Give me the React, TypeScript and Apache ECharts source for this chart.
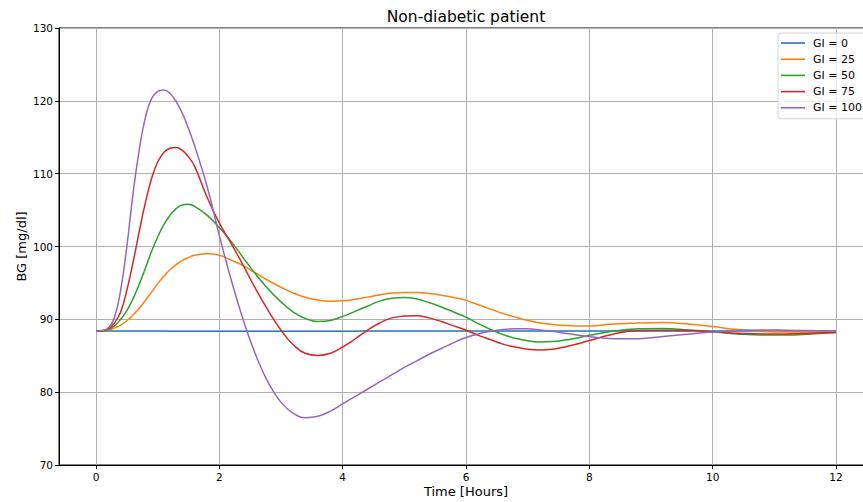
import React, { useEffect, useRef } from "react";
import * as echarts from "echarts";

const TITLE = "Non-diabetic patient";
const X_LABEL = "Time [Hours]";
const Y_LABEL = "BG [mg/dl]";
const X_TICKS = [0, 2, 4, 6, 8, 10, 12];
const SERIES_NAMES = ["GI = 0", "GI = 25", "GI = 50", "GI = 75", "GI = 100"];
const COLORS = ["#1f77b4", "#ff7f0e", "#2ca02c", "#d62728", "#9467bd"];

const HOURS = [
  0, 0.1, 0.2, 0.3, 0.4, 0.5, 0.6, 0.7, 0.8, 0.9, 1.0, 1.1, 1.2, 1.3, 1.4, 1.5, 1.6,
  1.8, 2.0, 2.2, 2.4, 2.6, 2.8, 3.0, 3.2, 3.4, 3.6, 3.8, 4.0, 4.2, 4.4, 4.6, 4.8, 5.0, 5.2, 5.4, 5.6,
  5.8, 6.0, 6.2, 6.4, 6.6, 6.8, 7.0, 7.2, 7.4, 7.6, 7.8, 8.0,
  8.4, 8.8, 9.2, 9.6, 10.0, 10.4, 10.8, 11.2, 11.6, 12.0,
];

const GI0 = [
  88.4, 88.4, 88.4, 88.4, 88.4, 88.4, 88.4, 88.4, 88.4, 88.4, 88.4, 88.39, 88.38, 88.38, 88.37, 88.37, 88.36,
  88.36, 88.35, 88.35, 88.35, 88.35, 88.36, 88.36, 88.37, 88.37, 88.38, 88.38, 88.38, 88.38, 88.39, 88.39, 88.39, 88.39, 88.4, 88.4, 88.4,
  88.4, 88.4, 88.4, 88.4, 88.4, 88.4, 88.4, 88.4, 88.4, 88.4, 88.4, 88.4,
  88.4, 88.4, 88.4, 88.4, 88.4, 88.4, 88.4, 88.4, 88.4, 88.4,
];
const GI25 = [
  88.4, 88.4, 88.5, 88.8, 89.2, 89.8, 90.6, 91.5, 92.6, 93.7, 94.9, 95.9, 96.8, 97.5, 98.1, 98.5, 98.8,
  99.0, 98.8, 98.1, 97.3, 96.3, 95.3, 94.4, 93.6, 93.0, 92.65, 92.5, 92.55, 92.75, 93.05, 93.35, 93.6, 93.7, 93.7, 93.55, 93.3,
  93.0, 92.6, 92.0, 91.4, 90.8, 90.3, 89.85, 89.5, 89.3, 89.15, 89.1, 89.1,
  89.35, 89.5, 89.55, 89.35, 89.0, 88.6, 88.35, 88.25, 88.25, 88.3,
];
const GI50 = [
  88.4, 88.4, 88.6, 89.1, 90.0, 91.2, 92.8, 94.8, 97.0, 99.3, 101.3, 103.0, 104.3, 105.2, 105.7, 105.8, 105.5,
  104.3, 102.6, 100.6, 98.3, 96.1, 94.1, 92.4, 91.0, 90.1, 89.7, 89.85, 90.4, 91.1, 91.8, 92.5, 92.9, 93.0, 92.8, 92.3, 91.7,
  91.0, 90.3, 89.4, 88.6, 87.9, 87.4, 87.05, 86.9, 86.95, 87.15, 87.45, 87.8,
  88.4, 88.7, 88.75, 88.55, 88.3, 88.0, 87.85, 87.85, 88.0, 88.2,
];
const GI75 = [
  88.4, 88.45, 88.7, 89.5, 91.0, 94.0, 97.8, 102.0, 106.0, 109.3, 111.6, 112.9, 113.5, 113.6, 113.2, 112.3, 111.0,
  106.8, 103.2, 100.3, 97.2, 94.0, 91.1, 88.5, 86.5, 85.3, 85.05, 85.35, 86.2, 87.3, 88.5, 89.5, 90.2, 90.45, 90.5, 90.2, 89.7,
  89.1, 88.5, 87.8, 87.2, 86.6, 86.2, 85.9, 85.8, 85.9, 86.2, 86.6, 87.1,
  88.0, 88.45, 88.5, 88.45, 88.3, 88.1, 88.0, 88.0, 88.1, 88.2,
];
const GI100 = [
  88.4, 88.45, 88.8, 90.3, 94.0, 100.0, 107.2, 113.2, 117.7, 120.3, 121.3, 121.5, 121.0, 119.9, 118.3, 116.2, 113.8,
  108.3, 101.5, 95.2, 89.6, 84.9, 81.2, 78.6, 77.1, 76.5, 76.7, 77.4, 78.4, 79.4, 80.4, 81.4, 82.4, 83.4, 84.3, 85.2, 86.0,
  86.8, 87.5, 88.0, 88.35, 88.6, 88.7, 88.7, 88.55, 88.35, 88.1, 87.85, 87.6,
  87.35, 87.35, 87.65, 87.95, 88.25, 88.45, 88.55, 88.5, 88.45, 88.4,
];

const ALL = [GI0, GI25, GI50, GI75, GI100];

const FONT = "DejaVu Sans";

export default function App() {
  const ref = useRef<HTMLDivElement>(null);
  useEffect(() => {
    if (!ref.current) return;
    const chart = echarts.init(ref.current, undefined, { renderer: "svg" });
    const gridLeft = 59;
    const gridRight = -10;
    const plotCenter = gridLeft + (863 - gridLeft - gridRight) / 2;
    chart.setOption({
      animation: false,
      backgroundColor: "#ffffff",
      textStyle: { fontFamily: FONT },
      title: {
        text: TITLE,
        left: plotCenter,
        textAlign: "center",
        top: 9,
        padding: 0,
        textStyle: { fontFamily: FONT, fontSize: 15.5, fontWeight: "normal", color: "#000" },
      },
      legend: {
        orient: "vertical",
        left: 778,
        top: 33,
        padding: [2, 4, 3, 3],
        itemGap: 0.2,
        itemWidth: 24,
        itemHeight: 1.6,
        icon: "rect",
        backgroundColor: "rgba(255,255,255,0.8)",
        borderColor: "#d4d4d4",
        borderWidth: 1,
        borderRadius: 3,
        textStyle: { fontFamily: FONT, fontSize: 11, color: "#000", lineHeight: 16, padding: [0, 0, 0, 3] },
        data: SERIES_NAMES,
      },
      grid: {
        left: gridLeft,
        right: gridRight,
        top: 28,
        bottom: 37,
        show: true,
        borderColor: "#000",
        borderWidth: 1,
        containLabel: false,
        outerBoundsMode: "none",
      },
      xAxis: {
        type: "value",
        min: -0.6,
        max: 12.6,
        name: X_LABEL,
        nameLocation: "middle",
        nameGap: 20,
        nameMoveOverlap: false,
        nameTextStyle: { fontFamily: FONT, fontSize: 13, color: "#000" },
        axisLine: { show: true, onZero: false, lineStyle: { color: "#000", width: 1 } },
        axisTick: { show: true, inside: false, length: 4, customValues: X_TICKS, lineStyle: { color: "#000" } },
        axisLabel: { customValues: X_TICKS, margin: 6, fontFamily: FONT, fontSize: 10.5, color: "#000" },
        splitLine: { show: true, lineStyle: { color: "#b0b0b0", width: 1 } },
      },
      yAxis: {
        type: "value",
        min: 70,
        max: 130,
        interval: 10,
        name: Y_LABEL,
        nameLocation: "middle",
        nameRotate: 90,
        nameGap: 31,
        nameMoveOverlap: false,
        nameTextStyle: { fontFamily: FONT, fontSize: 13, color: "#000" },
        axisLine: { show: true, onZero: false, lineStyle: { color: "#000", width: 1 } },
        axisTick: { show: true, inside: false, length: 4, lineStyle: { color: "#000" } },
        axisLabel: { margin: 6, fontFamily: FONT, fontSize: 10.5, color: "#000" },
        splitLine: { show: true, lineStyle: { color: "#b0b0b0", width: 1 } },
      },
      series: SERIES_NAMES.map((name, i) => ({
        name,
        type: "line",
        data: HOURS.map((h, j) => [h, ALL[i][j]]),
        symbol: "none",
        showSymbol: false,
        smooth: 0.45,
        lineStyle: { color: COLORS[i], width: 1.5 },
        itemStyle: { color: COLORS[i] },
        z: 2 + i,
      })),
    });
    return () => chart.dispose();
  }, []);
  return (
    <div
      ref={ref}
      style={{ position: "absolute", left: 0, top: 0, width: 863, height: 502 }}
    />
  );
}
